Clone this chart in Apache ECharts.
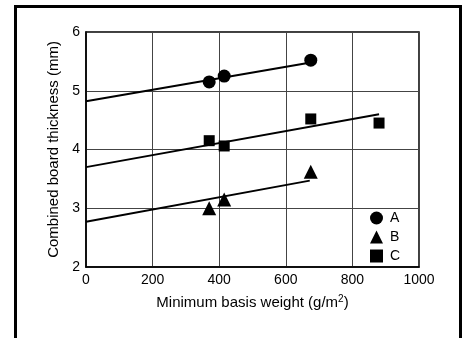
<!DOCTYPE html>
<html>
<head>
<meta charset="utf-8">
<script src="https://cdn.jsdelivr.net/npm/echarts@6/dist/echarts.min.js"></script>
<style>
  html, body { margin: 0; padding: 0; background: #fff; }
  #frame {
    position: absolute; left: 14px; top: 5px; width: 442px; height: 400px;
    border-left: 3px solid #000; border-top: 3px solid #000; border-right: 3px solid #000;
  }
  #chart { position: absolute; left: 0; top: 0; width: 466px; height: 338px; }
</style>
</head>
<body>
<div id="frame"></div>
<div id="chart"></div>
<script>
// measured points
const aX = [370, 415, 675];
const aY = [5.15, 5.25, 5.52];
const bX = [370, 415, 675];
const bY = [3.0, 3.15, 3.62];
const cX = [370, 415, 675, 880];
const cY = [4.15, 4.06, 4.52, 4.45];

// fitted lines (endpoints)
const fitAX = [0, 675];
const fitAY = [4.82, 5.48];
const fitBX = [0, 672];
const fitBY = [2.77, 3.47];
const fitCX = [0, 880];
const fitCY = [3.7, 4.6];

const pairs = (xs, ys) => xs.map((x, i) => [x, ys[i]]);

const chart = echarts.init(document.getElementById('chart'));
const font = 'Liberation Sans, Arial, sans-serif';

const fitLine = (xs, ys) => ({
  type: 'line',
  data: pairs(xs, ys),
  showSymbol: false,
  symbol: 'none',
  lineStyle: { color: '#000', width: 2 },
  silent: true,
  z: 3
});

const dots = (name, xs, ys, symbol, size) => ({
  name, type: 'scatter', data: pairs(xs, ys), symbol, symbolSize: size,
  itemStyle: { color: '#000', opacity: 1 }, z: 4
});

chart.setOption({
  animation: false,
  grid: {
    left: 86, top: 32, width: 333, height: 235,
    show: true, borderColor: '#000', borderWidth: 1.5
  },
  legend: {
    orient: 'vertical',
    left: 365, top: 206,
    itemWidth: 13, itemHeight: 13, itemGap: 5,
    textStyle: { fontFamily: font, fontSize: 14, color: '#000', padding: [0, 0, 0, 2] },
    data: ['A', 'B', 'C']
  },
  xAxis: {
    type: 'value', min: 0, max: 1000, interval: 200,
    name: 'Minimum basis weight (g/m{sup|2})',
    nameLocation: 'middle', nameGap: 27,
    nameTextStyle: {
      fontFamily: font, fontSize: 15, color: '#000',
      rich: { sup: { fontFamily: font, fontSize: 10, color: '#000', verticalAlign: 'top', padding: [0, 0, 7, 0] } }
    },
    axisLine: { lineStyle: { color: '#000', width: 1.5 } },
    axisTick: { show: false },
    axisLabel: { fontFamily: font, fontSize: 14, color: '#000', margin: 6, formatter: v => String(v) },
    splitLine: { lineStyle: { color: '#444', width: 1 } }
  },
  yAxis: {
    type: 'value', min: 2, max: 6, interval: 1,
    name: 'Combined board thickness (mm)',
    nameLocation: 'middle', nameGap: 24,
    nameTextStyle: { fontFamily: font, fontSize: 15, color: '#000' },
    axisLine: { lineStyle: { color: '#000', width: 1.5 } },
    axisTick: { show: false },
    axisLabel: { fontFamily: font, fontSize: 14, color: '#000', margin: 6 },
    splitLine: { lineStyle: { color: '#444', width: 1 } }
  },
  series: [
    fitLine(fitAX, fitAY),
    fitLine(fitBX, fitBY),
    fitLine(fitCX, fitCY),
    dots('A', aX, aY, 'circle', 13),
    dots('B', bX, bY, 'triangle', 14),
    dots('C', cX, cY, 'rect', 11)
  ]
});
</script>
</body>
</html>
